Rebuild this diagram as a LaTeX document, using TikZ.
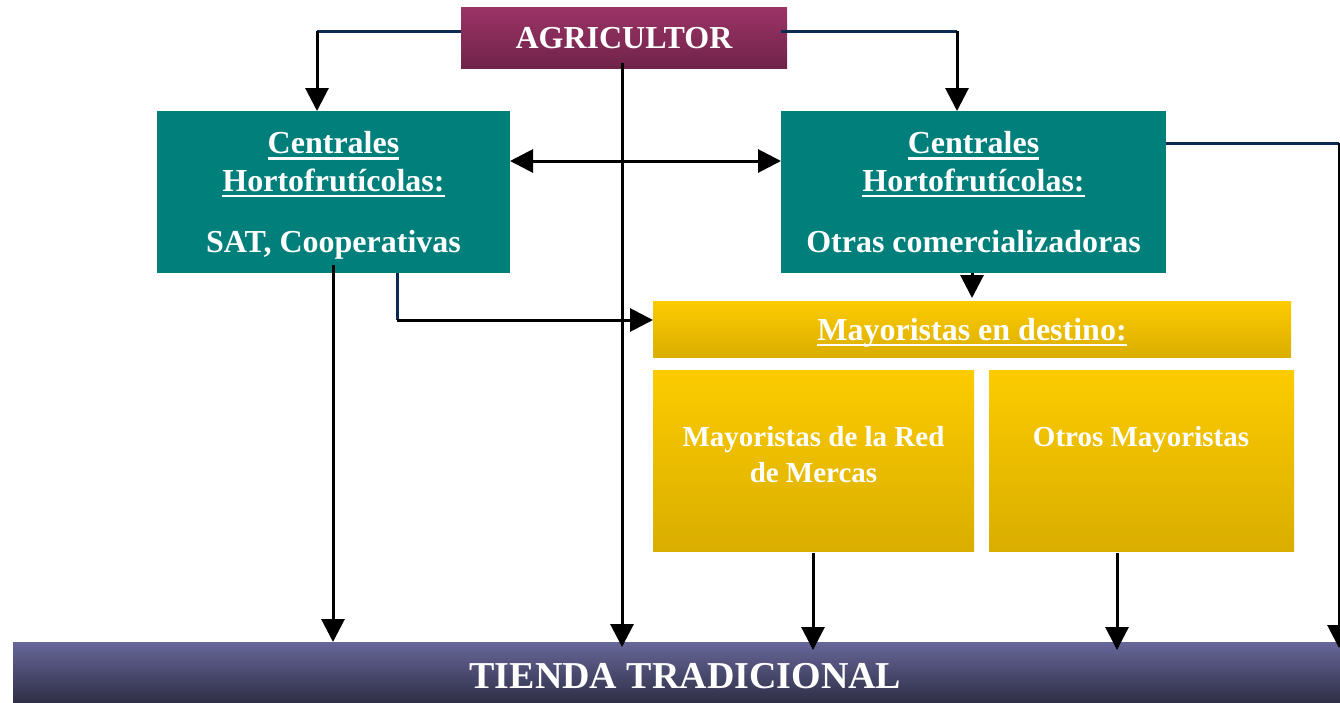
\documentclass[tikz,border=0pt]{standalone}
\usepackage{fontspec}
\setmainfont{Liberation Serif}
\usetikzlibrary{arrows.meta,calc}
\definecolor{agrtop}{HTML}{9B3366}
\definecolor{agrbot}{HTML}{70244A}
\definecolor{cteal}{HTML}{007F7B}
\definecolor{ytop}{HTML}{FCCB00}
\definecolor{ybot}{HTML}{DAAE00}
\definecolor{ttop}{HTML}{67679A}
\definecolor{tbot}{HTML}{2F2F47}
\definecolor{navy}{HTML}{0C2A52}
\newcommand\myul[1]{\setbox0\hbox{#1}\rlap{\rule[-6pt]{\wd0}{2.5pt}}\box0}
\begin{document}
\begin{tikzpicture}[x=1pt,y=-1pt,
  box/.style={draw=none,inner sep=0pt,outer sep=0pt},
  wtext/.style={text=white,font=\fontsize{32}{37.5}\selectfont\bfseries,align=center,inner sep=0pt},
  stext/.style={text=white,font=\fontsize{29}{35.7}\selectfont\bfseries,align=center,inner sep=0pt},
  tip/.tip={Triangle[length=23pt,width=23pt]},
  arr/.style={line width=3pt,-tip},
  darr/.style={line width=3pt,tip-tip},
  nav/.style={line width=3pt,draw=navy}]
\useasboundingbox (0,0) rectangle (1340,702);

% boxes
\node[box, top color=agrtop, bottom color=agrbot, minimum width=326pt, minimum height=61pt] (agr) at (624,37.5) {};
\node[wtext, anchor=base] (agrt) at (624,48) {AGRICULTOR};

\node[box, fill=cteal, minimum width=353pt, minimum height=162pt] (c1) at (333.5,192) {};
\node[wtext, anchor=north] (c1t) at (333.5,131.3) {\myul{Centrales}\\\myul{Hortofrutícolas:}\\[24pt]SAT, Cooperativas};

\node[box, fill=cteal, minimum width=385pt, minimum height=162pt] (c2) at (973.5,192) {};
\node[wtext, anchor=north] (c2t) at (973.5,131.3) {\myul{Centrales}\\\myul{Hortofrutícolas:}\\[24pt]Otras comercializadoras};

\node[box, top color=ytop, bottom color=ybot, minimum width=638pt, minimum height=56pt] (md) at (972,329) {};
\node[wtext, anchor=base] (mdt) at (972,340) {\myul{Mayoristas en destino:}};

\node[box, top color=ytop, bottom color=ybot, minimum width=321pt, minimum height=181pt] (m1) at (813.5,460.5) {};
\node[stext, anchor=north] (m1t) at (813.5,426.4) {Mayoristas de la Red\\de Mercas};

\node[box, top color=ytop, bottom color=ybot, minimum width=305pt, minimum height=181pt] (m2) at (1141.5,460.5) {};
\node[stext, anchor=base] (m2t) at (1141,446) {Otros Mayoristas};

\node[box, top color=ttop, bottom color=tbot, minimum width=1345pt, minimum height=60pt] (tienda) at (685.5,672) {};
\node[text=white,font=\fontsize{38}{40}\selectfont\bfseries,inner sep=0pt, anchor=base] (tt) at (685.5,688) {TIENDA TRADICIONAL};

% connectors
\coordinate (aL) at (317,31);
\draw[nav] ([yshift=6.5pt]agr.west) -- (aL);
\draw[arr] (aL) -- (aL |- c1.north);

\coordinate (aR) at (957,31);
\draw[nav] ([yshift=6.5pt,xshift=-6pt]agr.east) -- (aR);
\draw[arr] (aR) -- (aR |- c2.north);

\coordinate (ag) at (622,63);
\draw[arr] (ag) -- ($(ag |- tienda.north)+(0,5)$);

\draw[darr] ([yshift=31pt]c1.east) -- ([yshift=31pt]c2.west);

\coordinate (s1) at (333,265);
\draw[arr] (s1) -- (s1 |- tienda.north);

\coordinate (s2) at (397,273);
\coordinate (s2b) at (397,320);
\draw[nav] (s2) -- (s2b);
\draw[arr] (s2b) -- (s2b -| md.west);

\draw[arr] (c2.south -| md.north) -- ([yshift=3pt]md.north);

\coordinate (r1) at (1339,143);
\draw[nav] ([yshift=49pt]c2.east) -- (r1);
\draw[arr] (r1) -- ($(r1 |- tienda.north)+(0,6)$);

\coordinate (s3) at (813,553);
\draw[arr] (s3) -- ($(s3 |- tienda.north)+(0,8)$);

\coordinate (s4) at (1117,553);
\draw[arr] (s4) -- ($(s4 |- tienda.north)+(0,8)$);
\end{tikzpicture}
\end{document}
